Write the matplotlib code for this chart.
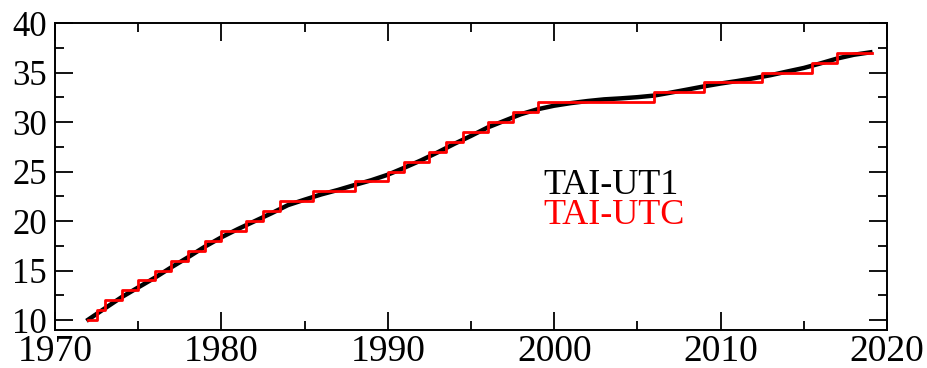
import matplotlib.pyplot as plt
from matplotlib.ticker import MultipleLocator

# TAI-UT1 (seconds), start of each year
anos_ut1 = [1972, 1973, 1974, 1975, 1976, 1977, 1978, 1979, 1980, 1981,
            1982, 1983, 1984, 1985, 1986, 1987, 1988, 1989, 1990, 1991,
            1992, 1993, 1994, 1995, 1996, 1997, 1998, 1999, 2000, 2001,
            2002, 2003, 2004, 2005, 2006, 2007, 2008, 2009, 2010, 2011,
            2012, 2013, 2014, 2015, 2016, 2017, 2018, 2019]
tai_ut1 = [10.05, 11.19, 12.31, 13.30, 14.28, 15.34, 16.35, 17.41, 18.36, 19.20,
           19.99, 20.78, 21.61, 22.16, 22.69, 23.14, 23.64, 24.12, 24.68, 25.39,
           26.13, 26.94, 27.80, 28.60, 29.45, 30.12, 30.79, 31.29, 31.65, 31.91,
           32.12, 32.29, 32.39, 32.51, 32.67, 32.97, 33.28, 33.60, 33.89, 34.14,
           34.42, 34.73, 35.10, 35.46, 35.92, 36.41, 36.79, 37.04]

# TAI-UTC: leap second epochs and new value
anos_utc = [1972.0, 1972.5, 1973.0, 1974.0, 1975.0, 1976.0, 1977.0, 1978.0,
            1979.0, 1980.0, 1981.5, 1982.5, 1983.5, 1985.5, 1988.0, 1990.0,
            1991.0, 1992.5, 1993.5, 1994.5, 1996.0, 1997.5, 1999.0, 2006.0,
            2009.0, 2012.5, 2015.5, 2017.0, 2019.1]
tai_utc = [10, 11, 12, 13, 14, 15, 16, 17,
           18, 19, 20, 21, 22, 23, 24, 25,
           26, 27, 28, 29, 30, 31, 32, 33,
           34, 35, 36, 37, 37]

plt.rcParams['font.family'] = ['Liberation Serif', 'DejaVu Serif']

fig = plt.figure(figsize=(9.28, 3.68), dpi=100)
ax = fig.add_axes([55 / 928, 38 / 368, 832 / 928, 307 / 368])

ax.plot(anos_ut1, tai_ut1, color='black', lw=3.2)
ax.plot(anos_utc, tai_utc, color='red', lw=2.0, drawstyle='steps-post')

ax.set_xlim(1970, 2020)
ax.set_ylim(9, 40)
ax.xaxis.set_major_locator(MultipleLocator(10))
ax.xaxis.set_minor_locator(MultipleLocator(5))
ax.yaxis.set_major_locator(MultipleLocator(5))
ax.yaxis.set_minor_locator(MultipleLocator(2.5))
ax.set_yticks([10, 15, 20, 25, 30, 35, 40])

ax.tick_params(which='both', direction='in', top=True, right=True, width=1.3)
ax.tick_params(which='major', length=13)
ax.tick_params(axis='x', which='major', labelsize=27, pad=3)
ax.tick_params(axis='y', which='major', labelsize=25, pad=6)
ax.tick_params(which='minor', length=6.5)
for s in ax.spines.values():
    s.set_linewidth(1.4)

ax.text(0.587, 0.472, 'TAI-UT1', transform=ax.transAxes, color='black',
        fontsize=26, va='center', ha='left')
ax.text(0.587, 0.374, 'TAI-UTC', transform=ax.transAxes, color='red',
        fontsize=26, va='center', ha='left')

fig.savefig('out.png', dpi=100)
